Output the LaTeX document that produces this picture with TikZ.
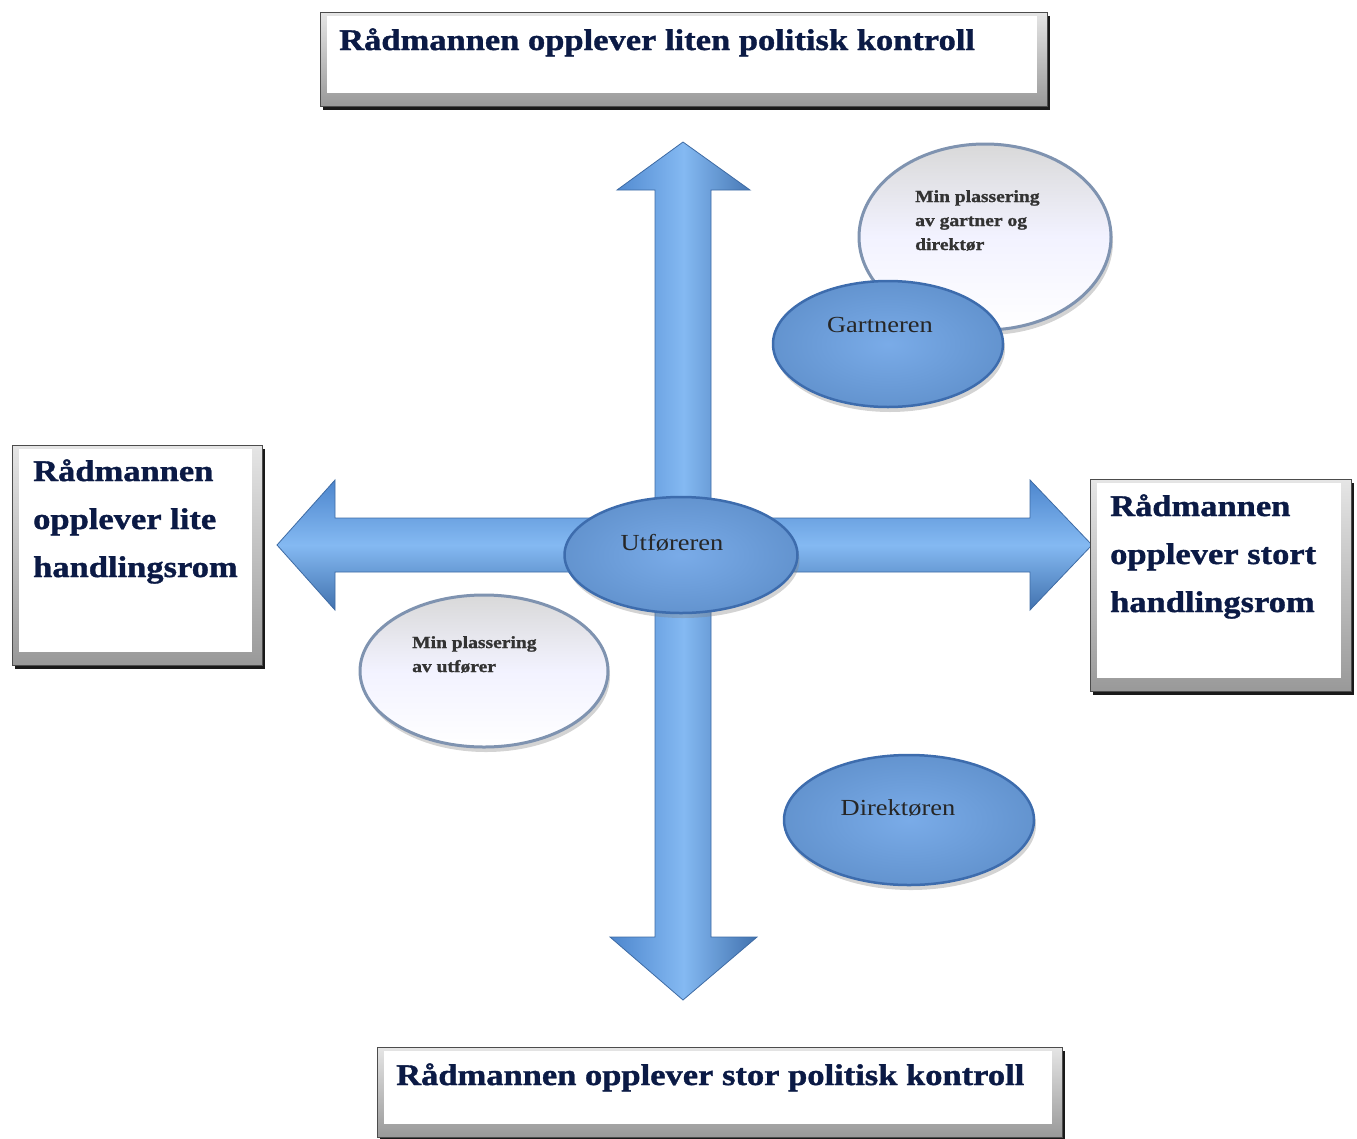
\documentclass[tikz,border=0pt]{standalone}
\usepackage{fontspec}
\setmainfont[FakeStretch=1.15]{Liberation Serif}
\newfontfamily\heavyfont[FakeStretch=1.15,BoldFeatures={FakeBold=1.2}]{Liberation Serif}
\usetikzlibrary{shadows,shapes.geometric}
\definecolor{navy}{HTML}{0B1A45}
\definecolor{arrowmid}{HTML}{84B9F2}
\definecolor{arrowside}{HTML}{4D86CD}
\definecolor{ellfill}{HTML}{6EA4E6}
\definecolor{elledge}{HTML}{3D6CAD}
\definecolor{wedge}{HTML}{7F93B0}
\begin{document}
\begin{tikzpicture}[x=1pt,y=-1pt,
  boxstyle/.style={rectangle, top color=gray!20, bottom color=gray!80, draw=gray!60!black, line width=0.6pt,
    drop shadow={shadow xshift=3pt, shadow yshift=-4pt, fill=black, opacity=0.9},
    path picture={\fill[white] ([shift={(7pt,13pt)}]path picture bounding box.south west) rectangle ([shift={(-10pt,-4pt)}]path picture bounding box.north east);}},
  boxtext/.style={font=\heavyfont\fontsize{30}{48}\selectfont\bfseries, text=navy, align=left, inner sep=0pt},
  blueell/.style={ellipse, draw=elledge, line width=2.5pt, inner color=ellfill!92!white, outer color=ellfill!90!black,
    drop shadow={shadow xshift=2pt, shadow yshift=-5pt, opacity=0.35}},
  whiteell/.style={ellipse, draw=wedge, line width=3pt, top color=gray!30, bottom color=white, middle color=white!95!blue,
    drop shadow={shadow xshift=2pt, shadow yshift=-5pt, opacity=0.35}},
  elltext/.style={font=\fontsize{23}{28}\selectfont, text=black!85, inner sep=0pt},
  smalltext/.style={font=\heavyfont\fontsize{17}{24}\selectfont\bfseries, text=black!80, align=left, inner sep=0pt},
  arrowshape/.style={draw=arrowside!80!black, line width=0.8pt, line join=miter}
]
\useasboundingbox (0,0) rectangle (1357,1138);

% vertical double arrow
\coordinate (vt) at (683,142);
\coordinate (vb) at (683,1000);
\shade[arrowshape, left color=arrowside, right color=arrowside!85!black, middle color=arrowmid]
  (vt) -- (750,190) -- (711,190) -- (711,937) -- (757,937) -- (vb) -- (610,937) -- (655,937) -- (655,190) -- (617,190) -- cycle;

% horizontal double arrow
\coordinate (hl) at (277,545);
\coordinate (hr) at (1092,545);
\shade[arrowshape, top color=arrowside, bottom color=arrowside!85!black, middle color=arrowmid]
  (hl) -- (335,480) -- (335,518) -- (1030,518) -- (1030,480) -- (hr) -- (1030,610) -- (1030,572) -- (335,572) -- (335,610) -- cycle;

% centre ellipse
\node[blueell, minimum width=233pt, minimum height=116pt] (utf) at (681,555) {};
\node[elltext] (utftxt) at (672,543) {Utføreren};

% white ellipses
\node[whiteell, minimum width=248pt, minimum height=152pt] (minU) at (484,671) {};
\node[smalltext, anchor=base west] (minUtxt) at (412,672) {Min plassering\\av utfører};

\node[whiteell, minimum width=252pt, minimum height=186pt] (minG) at (985,237) {};
\node[smalltext, anchor=base west] (minGtxt) at (915,250) {Min plassering\\av gartner og\\direktør};

% blue ellipses
\node[blueell, minimum width=230pt, minimum height=126pt] (gart) at (888,344) {};
\node[elltext] (garttxt) at (880,325) {Gartneren};

\node[blueell, minimum width=250pt, minimum height=130pt] (dir) at (909,820) {};
\node[elltext] (dirtxt) at (898,808) {Direktøren};

% boxes
\node[boxstyle, minimum width=727pt, minimum height=94pt] (topbox) at (683.5,59) {};
\node[boxtext, anchor=base west] (toptxt) at (339,50) {Rådmannen opplever liten politisk kontroll};

\node[boxstyle, minimum width=685pt, minimum height=90pt] (botbox) at (719.5,1092) {};
\node[boxtext, anchor=base west] (bottxt) at (396,1085) {Rådmannen opplever stor politisk kontroll};

\node[boxstyle, minimum width=250pt, minimum height=220pt] (leftbox) at (137,555) {};
\node[boxtext, anchor=base west] (lefttxt) at (33,577) {Rådmannen\\opplever lite\\handlingsrom};

\node[boxstyle, minimum width=261pt, minimum height=212pt] (rightbox) at (1220.5,585) {};
\node[boxtext, anchor=base west] (righttxt) at (1110,612) {Rådmannen\\opplever stort\\handlingsrom};
\end{tikzpicture}
\end{document}
